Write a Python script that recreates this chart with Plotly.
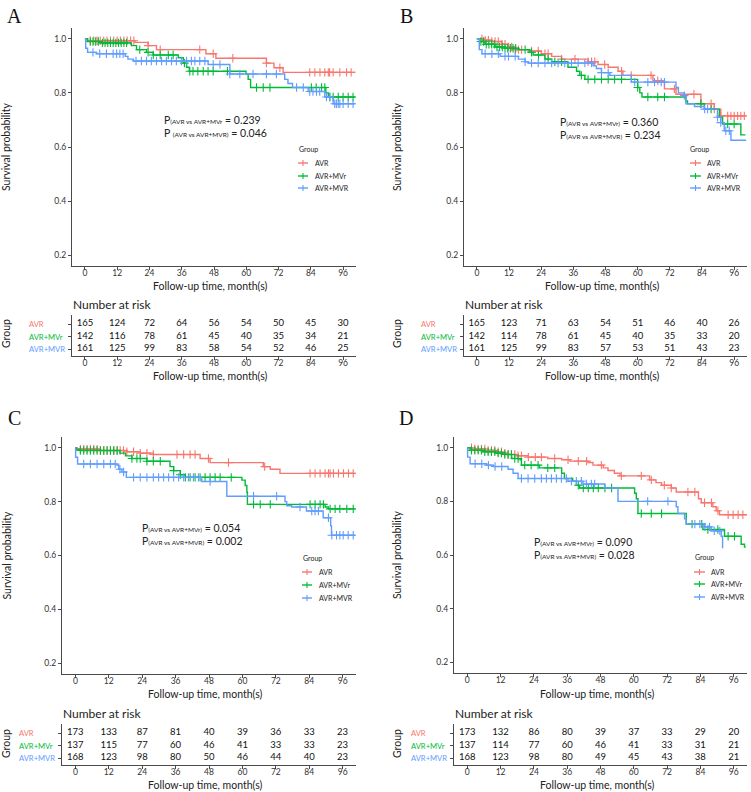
import plotly.graph_objects as go

W, H = 751, 792
FONT = "Lato"

GROUPS = ["AVR", "AVR+MVr", "AVR+MVR"]
COLORS = ["#F8766D", "#00BA38", "#619CFF"]
TIME_TICKS = [0, 12, 24, 36, 48, 60, 72, 84, 96]
SURV_TICKS = [0.2, 0.4, 0.6, 0.8, 1.0]

# ---------------- Panel A ----------------
A_red_t = [1, 18.6, 23.5, 26.6, 45, 48.7, 67.5, 70.3, 73.7]
A_red_s = [0.993, 0.987, 0.975, 0.96, 0.945, 0.928, 0.91, 0.893, 0.876]
A_red_c = [2, 3.3, 4.5, 5.7, 7, 8.2, 9.5, 10.7, 12, 13.2, 14.5, 15.7, 17, 18.2, 23.5, 28, 42.7, 47.7, 55,
           67.5, 72.5, 83.6, 85.5, 87.4, 89.2, 90.5, 91, 92.3, 94.8, 97.3, 99]
A_grn_t = [1, 5.6, 17.3, 19.2, 22.9, 25.4, 34.7, 36.6, 37.8, 38.8, 59.9, 60.7, 61.6, 89.6, 90.5]
A_grn_s = [0.99, 0.985, 0.975, 0.96, 0.95, 0.94, 0.93, 0.91, 0.895, 0.88, 0.87, 0.85, 0.82, 0.80, 0.785]
A_grn_c = [2, 3, 4, 5, 6.5, 7.5, 8.5, 9.5, 10.5, 11.5, 12.5, 13.5, 14.5, 15.5, 20.4, 23.5, 25.4, 28, 31, 32.8,
           37, 39, 40.2, 42, 44, 45.8, 47.7, 53, 63.8, 66.3, 68.8, 84.2, 86, 88, 89.2, 91.1, 92.3, 94.2, 96,
           97.9, 99.7]
A_blu_t = [0.3, 1, 4.3, 15, 16, 18, 45.8, 53.9, 74.3, 75.5, 77.2, 83, 89.2, 92.3]
A_blu_s = [0.965, 0.95, 0.945, 0.935, 0.925, 0.918, 0.905, 0.87, 0.85, 0.835, 0.82, 0.805, 0.785, 0.76]
A_blu_c = [3, 5.5, 8, 10.5, 11.8, 13, 14.2, 19, 21, 22.9, 24.7, 26.6, 28.5, 30.3, 32.2, 34, 35.9, 37.8, 39.6,
           40.9, 42.7, 44.6, 47.7, 50.2, 53.9, 57.6, 62.5, 67.5, 71.2, 78.7, 81.2, 83.6, 84.8, 86.1, 87.3,
           89.8, 91, 92.9, 93.5, 94.2, 94.8, 96, 97.9, 99.7]
A_end = [100.5, 100.5, 100.5]
A_risk_avr = [165, 124, 72, 64, 56, 54, 50, 45, 30]
A_risk_mvr_r = [142, 116, 78, 61, 45, 40, 35, 34, 21]
A_risk_mvr = [161, 125, 99, 83, 58, 54, 52, 46, 25]
A_p = ["P<span style='font-size:6.5px'>(AVR vs AVR+MVr</span> = 0.239",
       "P <span style='font-size:6.5px'>(AVR vs AVR+MVR)</span> = 0.046"]

# ---------------- Panel B ----------------
B_red_t = [2, 5.6, 9.3, 11.8, 14.3, 19.2, 24, 27.9, 31.6, 41.5, 45.2, 49, 52.7, 54.5, 65.7, 70, 74.3, 83.6,
           88.6, 91]
B_red_s = [0.995, 0.99, 0.98, 0.97, 0.96, 0.955, 0.945, 0.935, 0.925, 0.915, 0.905, 0.895, 0.88, 0.865,
           0.845, 0.815, 0.795, 0.76, 0.74, 0.715]
B_red_c = [1.9, 3.1, 4.3, 5.6, 6.8, 8, 9.3, 10.5, 11.8, 13, 14.3, 15.5, 16.7, 20.4, 22.9, 25.4, 26.6, 31.6,
           36.6, 41.5, 42.8, 44, 47.7, 54, 57.6, 65, 67.5, 73.7, 81, 83.6, 87.4, 88.6, 91, 93.6, 94.8, 96,
           97.3, 98.5, 99.8]
B_grn_t = [1, 3, 6.8, 10.5, 15.5, 19.8, 21, 25.4, 27.9, 34, 37.2, 38.4, 40.3, 60, 60.8, 61.6, 78, 78.6,
           84.9, 90.5, 91.7, 98.5]
B_grn_s = [0.99, 0.98, 0.97, 0.965, 0.96, 0.95, 0.94, 0.925, 0.915, 0.895, 0.88, 0.865, 0.85, 0.82, 0.80,
           0.785, 0.77, 0.76, 0.74, 0.71, 0.685, 0.645]
B_grn_c = [1.5, 2.5, 3.5, 4.5, 5.5, 6.5, 7.5, 8.5, 9.5, 10.5, 11.5, 12.5, 13.5, 14.5, 18, 20.4, 23, 26.6,
           29.1, 31.6, 39, 41.5, 44, 46.5, 49, 51.4, 54, 60, 63.8, 67.5, 70, 83.6, 87.4, 93.6, 96]
B_blu_t = [0.9, 1.9, 8.7, 15.5, 18, 19.2, 43.4, 44.6, 46.5, 49.6, 57.6, 74.3, 75.2, 77.4, 78, 81.2, 84.9,
           89.8, 91, 92.3, 94.8]
B_blu_s = [0.96, 0.945, 0.935, 0.925, 0.915, 0.91, 0.90, 0.89, 0.875, 0.865, 0.84, 0.82, 0.80, 0.79, 0.76,
           0.75, 0.74, 0.71, 0.69, 0.66, 0.625]
B_blu_c = [3.1, 5.6, 8, 10.5, 11.8, 14.3, 18, 20.4, 22.9, 25.4, 27.9, 30.3, 32.8, 35.3, 37.8, 40.3, 42.8,
           46.5, 49, 58.9, 63.8, 66.3, 68.8, 70, 77.4, 85, 86.1, 89.8, 91, 92.9, 94.2]
B_end = [100.5, 100.2, 100.5]
B_risk_avr = [165, 123, 71, 63, 54, 51, 46, 40, 26]
B_risk_mvr_r = [142, 114, 78, 61, 45, 40, 35, 33, 20]
B_risk_mvr = [161, 125, 99, 83, 57, 53, 51, 43, 23]
B_p = ["P<span style='font-size:6.5px'>(AVR vs AVR+MVr)</span> = 0.360",
       "P<span style='font-size:6.5px'>(AVR vs AVR+MVR)</span> = 0.234"]

# ---------------- Panel C ----------------
C_red_t = [0.6, 9, 18.5, 23.3, 28, 44.8, 48.4, 67.5, 70, 73.5]
C_red_s = [0.995, 0.99, 0.985, 0.98, 0.975, 0.96, 0.945, 0.93, 0.92, 0.905]
C_red_c = [1.8, 3, 4.2, 5.4, 6.6, 7.8, 9, 10.2, 11.4, 12.6, 13.8, 15, 16.1, 17.3, 18.5, 20.9, 23.3, 25.7,
           28, 36.5, 38.9, 41.2, 43, 47.8, 55, 68, 84.3, 86.1, 87.9, 89.7, 90.9, 91.5, 92.7, 94.5, 96.3,
           98.1, 99.8]
C_grn_t = [0.4, 1.8, 16, 18, 20.3, 25.7, 34, 35.3, 37.7, 39.5, 59.8, 61, 61.6, 61.8, 89.7, 90.9]
C_grn_s = [0.995, 0.99, 0.98, 0.97, 0.96, 0.95, 0.93, 0.915, 0.90, 0.89, 0.88, 0.86, 0.835, 0.79, 0.78,
           0.773]
C_grn_c = [1.8, 3, 4.2, 5.4, 6.6, 7.8, 9, 10.2, 11.4, 12.6, 13.8, 15, 20.3, 22.1, 23.3, 25.7, 28, 30.5,
           35.3, 37.7, 39.5, 41.2, 43, 44.8, 46.6, 48.4, 50.2, 52, 56, 64, 66.4, 70, 84.3, 86.1, 87.9, 89.1,
           91.5, 93.3, 95, 97.5, 99.8]
C_blu_t = [0.1, 0.8, 15, 15.6, 16.7, 18.3, 45.4, 54.4, 75.3, 75.9, 77.7, 83, 89, 91.7, 92]
C_blu_s = [0.965, 0.94, 0.935, 0.92, 0.91, 0.89, 0.875, 0.82, 0.80, 0.785, 0.78, 0.765, 0.74, 0.71, 0.675]
C_blu_c = [3, 5.4, 7.8, 10.2, 12.6, 14.3, 16, 17.3, 20.9, 23.3, 25.7, 28, 29.9, 31.7, 33.5, 35.3, 37.1,
           38.9, 40.6, 42.4, 44.2, 48.4, 64, 72.3, 80.7, 84.9, 86.1, 87.3, 90.9, 92.1, 93.8, 95, 96.2, 98,
           99.8]
C_end = [100.5, 100.5, 100.5]
C_risk_avr = [173, 133, 87, 81, 40, 39, 36, 33, 23]
C_risk_mvr_r = [137, 115, 77, 60, 46, 41, 33, 33, 23]
C_risk_mvr = [168, 123, 98, 80, 50, 46, 44, 40, 23]
C_p = ["P<span style='font-size:6.5px'>(AVR vs AVR+MVr)</span> = 0.054",
       "P<span style='font-size:6.5px'>(AVR vs AVR+MVR)</span> = 0.002"]

# ---------------- Panel D ----------------
D_red_t = [1.6, 6.4, 10, 12.4, 14.7, 17.7, 21.9, 29, 34, 37, 43.5, 45.3, 49, 50.7, 53, 55, 65.7, 68, 70,
           73.5, 75.3, 83.3, 84.3, 88.5, 89.7, 90.9]
D_red_s = [0.995, 0.99, 0.985, 0.98, 0.975, 0.97, 0.965, 0.96, 0.955, 0.95, 0.945, 0.935, 0.925, 0.915,
           0.905, 0.895, 0.88, 0.87, 0.86, 0.85, 0.835, 0.81, 0.795, 0.78, 0.765, 0.75]
D_red_c = [1.5, 2.7, 3.9, 5.1, 6.3, 7.5, 8.7, 9.9, 11.1, 12.3, 13.5, 14.7, 15.9, 17.1, 18.3, 19.5, 22,
           24.5, 26.7, 31.5, 36.3, 40, 43, 48.3, 55.5, 62.7, 66.3, 71, 73.5, 79.5, 82, 85.5, 88, 90.3, 94,
           95.8, 97.6, 99.3]
D_grn_t = [1, 5.2, 10, 13.5, 16, 19, 19.5, 26, 34, 35, 38, 39.3, 40.5, 60.3, 60.9, 61.5, 78.9, 84.9,
           92.7, 98.7, 99.9]
D_grn_s = [0.99, 0.985, 0.98, 0.975, 0.96, 0.955, 0.935, 0.925, 0.905, 0.885, 0.875, 0.86, 0.85, 0.83,
           0.81, 0.755, 0.715, 0.695, 0.67, 0.64, 0.63]
D_grn_c = [1.5, 2.7, 3.9, 5.1, 6.3, 7.5, 8.7, 9.9, 11.1, 12.3, 13.5, 14.7, 15.9, 17.1, 18.3, 20.7, 23,
           25.5, 29, 31.5, 40, 41.8, 43.6, 45.4, 47.2, 49.6, 52, 62.7, 66.3, 70, 81, 84.5, 86.7, 90.3, 94,
           96.3]
D_blu_t = [0.1, 1, 7, 9.4, 14.7, 16.5, 18.3, 36.3, 41.7, 49.5, 54.3, 75.3, 75.9, 78.3, 78.9, 85.5, 87.9,
           91.5, 92]
D_blu_s = [0.965, 0.94, 0.935, 0.93, 0.92, 0.905, 0.885, 0.875, 0.865, 0.85, 0.80, 0.78, 0.755, 0.735,
           0.715, 0.705, 0.69, 0.67, 0.625]
D_blu_c = [2.8, 5.2, 7.6, 10, 12.4, 19.5, 21.9, 24.3, 26.7, 28.5, 30.3, 32.1, 33.9, 35.7, 37.5, 39.3,
           41.1, 42.9, 44.7, 45.9, 65, 72.3, 82, 83.8, 85.6, 87.3, 89, 91]
D_end = [100.7, 100.3, 92]
D_risk_avr = [173, 132, 86, 80, 39, 37, 33, 29, 20]
D_risk_mvr_r = [137, 114, 77, 60, 46, 41, 33, 31, 21]
D_risk_mvr = [168, 123, 98, 80, 49, 45, 43, 38, 21]
D_p = ["P<span style='font-size:6.5px'>(AVR vs AVR+MVr)</span> = 0.090",
       "P<span style='font-size:6.5px'>(AVR vs AVR+MVR)</span> = 0.028"]

DATA = {
    "A": dict(t=[A_red_t, A_grn_t, A_blu_t], s=[A_red_s, A_grn_s, A_blu_s], c=[A_red_c, A_grn_c, A_blu_c],
              end=A_end, risk=[A_risk_avr, A_risk_mvr_r, A_risk_mvr], p=A_p),
    "B": dict(t=[B_red_t, B_grn_t, B_blu_t], s=[B_red_s, B_grn_s, B_blu_s], c=[B_red_c, B_grn_c, B_blu_c],
              end=B_end, risk=[B_risk_avr, B_risk_mvr_r, B_risk_mvr], p=B_p),
    "C": dict(t=[C_red_t, C_grn_t, C_blu_t], s=[C_red_s, C_grn_s, C_blu_s], c=[C_red_c, C_grn_c, C_blu_c],
              end=C_end, risk=[C_risk_avr, C_risk_mvr_r, C_risk_mvr], p=C_p),
    "D": dict(t=[D_red_t, D_grn_t, D_blu_t], s=[D_red_s, D_grn_s, D_blu_s], c=[D_red_c, D_grn_c, D_blu_c],
              end=D_end, risk=[D_risk_avr, D_risk_mvr_r, D_risk_mvr], p=D_p),
}

# ---------------- layout geometry (pixels) ----------------
GEOM = {
    "A": dict(x0=72, x1=356, ky0=28, ky1=266, ty0=315, ty1=356, letter=(14, 16), ytx=6, labx=28, xtc=210,
              kmt=286, nar=304, tbt=376, gy=334, p=(162, 120, 133), leg=(297, 149, 298, 308, 313, [163, 176, 188])),
    "B": dict(x0=464, x1=747, ky0=28, ky1=266, ty0=315, ty1=356, letter=(406, 16), ytx=397, labx=420, xtc=602,
              kmt=286, nar=304, tbt=376, gy=334, p=(558, 122, 135), leg=(688, 149, 690, 701, 705, [163, 176, 188])),
    "C": dict(x0=62, x1=356, ky0=437, ky1=674, ty0=724, ty1=765, letter=(14, 418), ytx=6, labx=18, xtc=205,
              kmt=694, nar=713, tbt=785, gy=744, p=(140, 528, 541), leg=(301, 558, 302, 312, 317, [572, 585, 598])),
    "D": dict(x0=454, x1=747, ky0=437, ky1=673, ty0=724, ty1=765, letter=(406, 418), ytx=397, labx=410, xtc=597,
              kmt=694, nar=713, tbt=785, gy=744, p=(532, 542, 555), leg=(693, 557, 694, 705, 709, [572, 584, 597])),
}


def fx(x):
    return x / W


def fy(y):
    return 1 - y / H


def surv_at(t, times, surv):
    s = 1.0
    for ti, si in zip(times, surv):
        if ti <= t:
            s = si
    return s


fig = go.Figure()
layout = dict(width=W, height=H, margin=dict(l=0, r=0, t=0, b=0), paper_bgcolor="white",
              plot_bgcolor="white", showlegend=False, font=dict(family=FONT, color="#222"))
annotations = []
shapes = []

AXLINE = "#4a4a4a"
XR = [-4.8, 100.8]

for i, key in enumerate(["A", "B", "C", "D"]):
    d, g = DATA[key], GEOM[key]
    kx = 2 * i + 1
    tx = 2 * i + 2
    ksuf = "" if kx == 1 else str(kx)
    tsuf = str(tx)

    # KM curves
    for gi in range(3):
        times, surv = d["t"][gi], d["s"][gi]
        xs = [0] + times + [d["end"][gi]]
        ys = [1.0] + surv + [surv[-1]]
        fig.add_trace(go.Scatter(x=xs, y=ys, mode="lines", line=dict(color=COLORS[gi], width=1.4, shape="hv"),
                                 xaxis="x" + ksuf, yaxis="y" + ksuf, hoverinfo="skip", name=GROUPS[gi]))
        cens = d["c"][gi]
        fig.add_trace(go.Scatter(x=cens, y=[surv_at(c, times, surv) for c in cens], mode="markers",
                                 marker=dict(symbol="cross-thin", size=6, line=dict(color=COLORS[gi], width=1.1)),
                                 xaxis="x" + ksuf, yaxis="y" + ksuf, hoverinfo="skip", name=GROUPS[gi]))
    # risk table
    for gi in range(3):
        fig.add_trace(go.Scatter(x=TIME_TICKS, y=[3 - gi] * len(TIME_TICKS), mode="text",
                                 text=[str(v) for v in d["risk"][gi]],
                                 textfont=dict(size=9.5, color="#111", family=FONT),
                                 xaxis="x" + tsuf, yaxis="y" + tsuf, hoverinfo="skip"))

    common_x = dict(range=XR, tickvals=TIME_TICKS, ticks="outside", ticklen=3, tickwidth=1, tickcolor=AXLINE,
                    showline=True, linecolor=AXLINE, linewidth=1.3, showgrid=False, zeroline=False,
                    tickfont=dict(size=8.5, family=FONT, color="#333"), fixedrange=True, ticklabelstandoff=-4)
    layout["xaxis" + ksuf] = dict(common_x, domain=[fx(g["x0"]), fx(g["x1"])], anchor="y" + ksuf)
    layout["yaxis" + ksuf] = dict(range=[0.16, 1.04], tickvals=SURV_TICKS, ticktext=["%.1f" % v for v in SURV_TICKS],
                                  ticks="outside", ticklen=3, tickwidth=1, tickcolor=AXLINE, showline=True,
                                  linecolor=AXLINE, linewidth=1.3, showgrid=False, zeroline=False,
                                  tickfont=dict(size=8.5, family=FONT, color="#333"),
                                  domain=[fy(g["ky1"]), fy(g["ky0"])], anchor="x" + ksuf)
    layout["xaxis" + tsuf] = dict(common_x, domain=[fx(g["x0"]), fx(g["x1"])], anchor="y" + tsuf)
    layout["yaxis" + tsuf] = dict(range=[0.44, 3.72], tickvals=[1, 2, 3], showticklabels=False, ticks="outside",
                                  ticklen=3, tickwidth=1, tickcolor=AXLINE, showline=True, linecolor=AXLINE,
                                  linewidth=1.3, showgrid=False, zeroline=False,
                                  domain=[fy(g["ty1"]), fy(g["ty0"])], anchor="x" + tsuf)

    # text elements
    annotations.append(dict(text=key, x=fx(g["letter"][0]), y=fy(g["letter"][1]), xref="paper", yref="paper",
                            showarrow=False, font=dict(family="Liberation Serif", size=20, color="#111"),
                            xanchor="center", yanchor="middle"))
    annotations.append(dict(text="Survival probability", x=fx(g["ytx"]), y=fy((g["ky0"] + g["ky1"]) / 2),
                            xref="paper", yref="paper", showarrow=False, textangle=-90,
                            font=dict(size=10.5, color="#222"), xanchor="center", yanchor="middle"))
    for yy in (g["kmt"], g["tbt"]):
        annotations.append(dict(text="Follow-up time, month(s)", x=fx(g["xtc"]), y=fy(yy), xref="paper",
                                yref="paper", showarrow=False, font=dict(size=10.5, color="#222"),
                                xanchor="center", yanchor="middle"))
    annotations.append(dict(text="Number at risk", x=fx(g["x0"] - 1), y=fy(g["nar"]), xref="paper", yref="paper",
                            showarrow=False, font=dict(size=12, color="#222"), xanchor="left", yanchor="middle"))
    annotations.append(dict(text="Group", x=fx(g["ytx"]), y=fy(g["gy"]), xref="paper", yref="paper",
                            showarrow=False, textangle=-90, font=dict(size=10.5, color="#222"),
                            xanchor="center", yanchor="middle"))
    for gi in range(3):
        annotations.append(dict(text=GROUPS[gi], x=fx(g["labx"] - 1), y=3 - gi, xref="paper", yref="y" + tsuf,
                                showarrow=False, font=dict(size=7.6, color=COLORS[gi]), xanchor="left",
                                yanchor="middle"))
    px_, py1, py2 = g["p"]
    for txt, yy in zip(d["p"], (py1, py2)):
        annotations.append(dict(text=txt, x=fx(px_), y=fy(yy), xref="paper", yref="paper", showarrow=False,
                                font=dict(size=10.5, color="#222"), xanchor="left", yanchor="middle"))
    # legend (drawn manually to match ggplot key spacing)
    lx, ly, l0, l1, ltx, rows = g["leg"]
    annotations.append(dict(text="Group", x=fx(lx), y=fy(ly), xref="paper", yref="paper", showarrow=False,
                            font=dict(size=7, color="#222"), xanchor="left", yanchor="middle"))
    for gi in range(3):
        yy = rows[gi]
        shapes.append(dict(type="line", xref="paper", yref="paper", x0=fx(l0), x1=fx(l1), y0=fy(yy), y1=fy(yy),
                           line=dict(color=COLORS[gi], width=1.4)))
        xm = (l0 + l1) / 2
        shapes.append(dict(type="line", xref="paper", yref="paper", x0=fx(xm), x1=fx(xm), y0=fy(yy - 3),
                           y1=fy(yy + 3), line=dict(color=COLORS[gi], width=1.1)))
        annotations.append(dict(text=GROUPS[gi], x=fx(ltx), y=fy(yy), xref="paper", yref="paper",
                                showarrow=False, font=dict(size=7, color="#222"), xanchor="left",
                                yanchor="middle"))

layout["annotations"] = annotations
layout["shapes"] = shapes
fig.update_layout(**layout)
fig.write_html("out.html")
